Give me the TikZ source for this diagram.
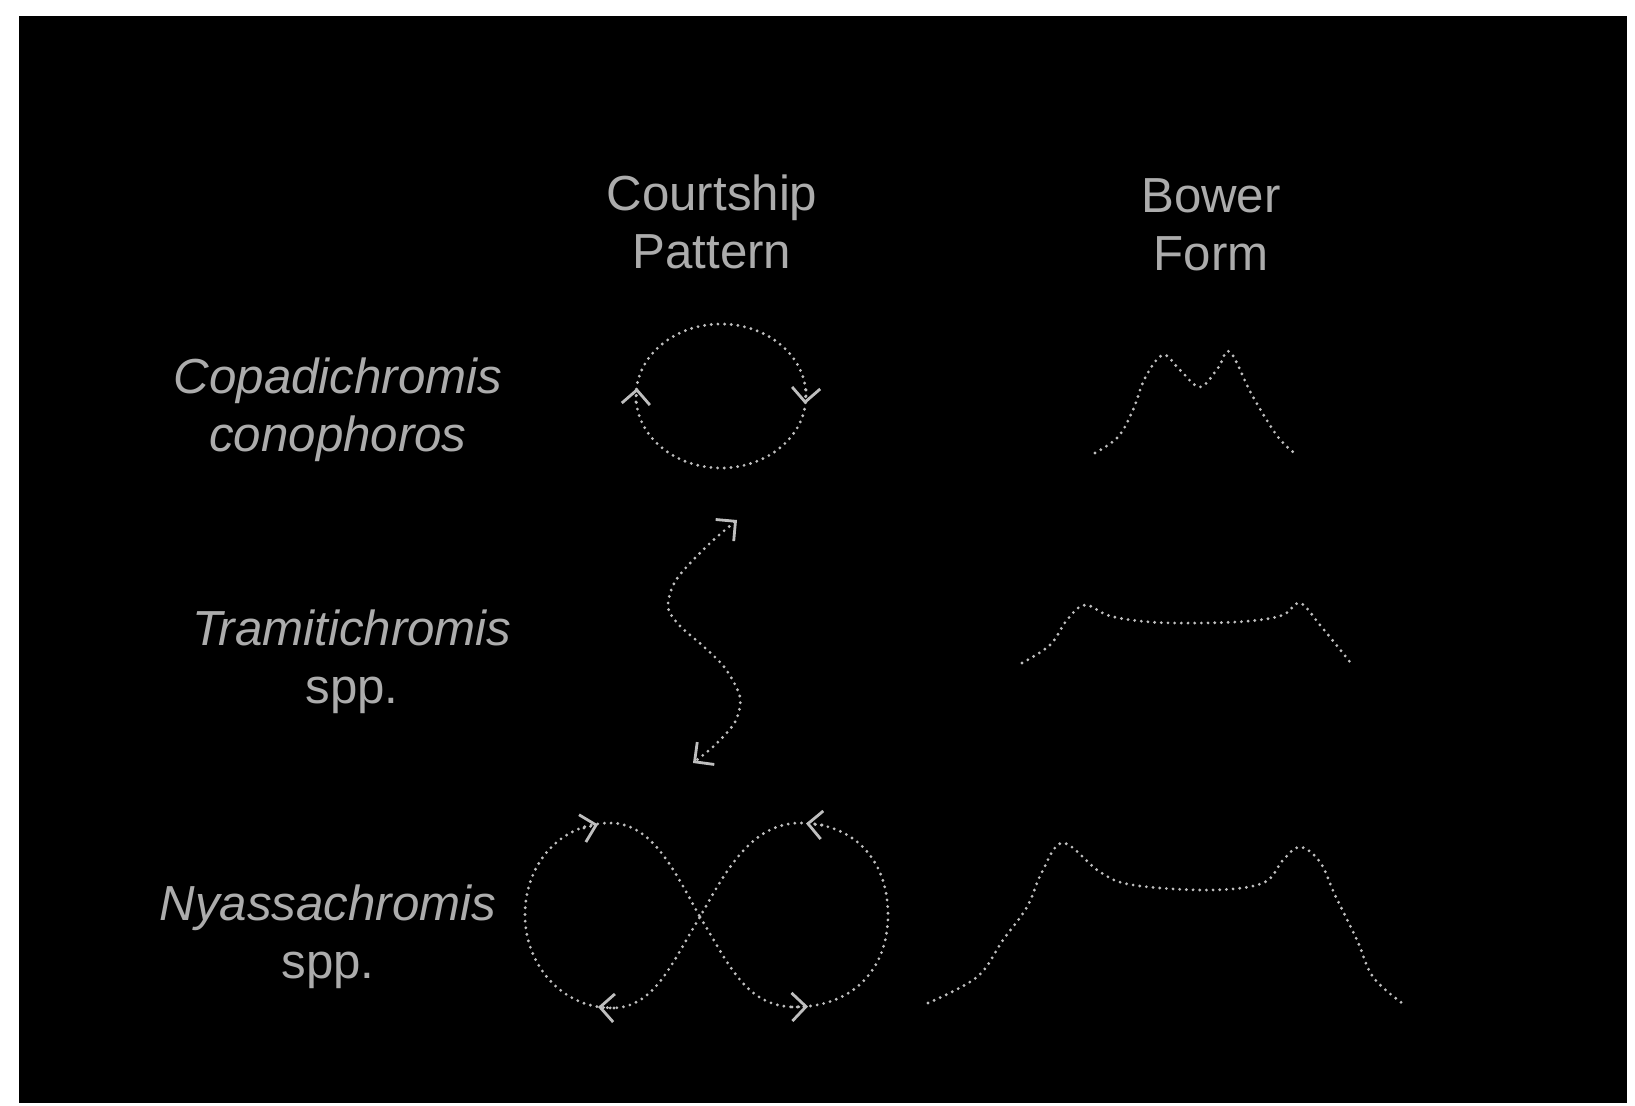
\documentclass[tikz,border=0pt]{standalone}
\usepackage{fontspec}
\setmainfont{Liberation Sans}
\usetikzlibrary{arrows.meta}
\definecolor{ink}{RGB}{190,190,190}
\definecolor{textink}{RGB}{172,172,172}
\begin{document}
\begin{tikzpicture}[x=0.01cm,y=-0.01cm,
  lbl/.style={text=textink, font=\fontsize{14pt}{16.5pt}\selectfont, align=center, inner sep=0pt},
  trail/.style={draw=ink, line width=0.9pt, line cap=round, dash pattern=on 0pt off 1.9pt},
  barb/.tip={Straight Barb[length=4pt,width=8pt,line width=0.8pt]},
  headtip/.style={trail, -{barb[ink]}},
]
% canvas
\fill[white] (0,0) rectangle (1635,1106);
\fill[black] (19,16) rectangle (1627,1103);

% headers
\node[lbl] (hcourt) at (712,222) {Courtship\\Pattern};
\node[lbl] (hbower) at (1211,225) {Bower\\Form};

% species
\node[lbl] (s1) at (338,410) {\textit{Copadichromis}\\\textit{conophoros}};
\node[lbl] (s2) at (352,662) {\textit{Tramitichromis}\\spp.};
\node[lbl] (s3) at (328,937) {\textit{Nyassachromis}\\spp.};

% courtship 1: circle (clockwise)
\draw[trail] (721,396) ellipse [x radius=85, y radius=72];
\coordinate (c1a) at (806,390);
\coordinate (c1b) at (805,404);
\coordinate (c1c) at (636,402);
\coordinate (c1d) at (637,388);
\draw[headtip] (c1a) -- (c1b);
\draw[headtip] (c1c) -- (c1d);

% courtship 2: back-and-forth line
\draw[trail, {barb[ink]}-{barb[ink]}]
  plot[smooth] coordinates {(737,520) (705,548) (676,580) (668,607) (680,626)
    (703,646) (725,668) (740,697) (735,722) (715,745) (693,763)};

% courtship 3: figure eight
\draw[trail]
  (700,917) .. controls (728,962) and (745,1007) .. (795,1007)
  .. controls (852,1007) and (888,970) .. (888,915)
  .. controls (888,858) and (852,823) .. (800,823)
  .. controls (752,823) and (726,870) .. (700,917)
  .. controls (672,962) and (655,1008) .. (612,1008)
  .. controls (562,1008) and (525,965) .. (525,915)
  .. controls (525,862) and (562,823) .. (610,823)
  .. controls (652,823) and (674,870) .. (700,917);
\coordinate (e1a) at (792,1007);
\coordinate (e1b) at (808,1006.5);
\coordinate (e2a) at (822,825);
\coordinate (e2b) at (806,823.5);
\coordinate (e3a) at (614,1008);
\coordinate (e3b) at (598,1007);
\coordinate (e4a) at (584,828);
\coordinate (e4b) at (598,824.5);
\draw[headtip] (e1a) -- (e1b);
\draw[headtip] (e2a) -- (e2b);
\draw[headtip] (e3a) -- (e3b);
\draw[headtip] (e4a) -- (e4b);

% bower 1: twin-peaked mound
\draw[trail] plot[smooth, tension=0.6] coordinates {(1095,453) (1118,437) (1133,410)
  (1145,378) (1163,355) (1180,370) (1200,387) (1218,368) (1230,352) (1252,395)
  (1278,437) (1297,455)};

% bower 2: low platform
\draw[trail] plot[smooth, tension=0.6] coordinates {(1022,663) (1050,645) (1067,620)
  (1085,605) (1110,616) (1150,622) (1200,623) (1250,621) (1283,615) (1300,603)
  (1320,625) (1350,662)};

% bower 3: large castle
\draw[trail] plot[smooth, tension=0.6] coordinates {(928,1003) (977,977) (1003,940)
  (1027,907) (1042,872) (1063,843) (1100,872) (1133,885) (1210,890) (1263,883)
  (1283,860) (1300,847) (1320,862) (1335,895) (1357,940) (1373,977) (1402,1003)};
\end{tikzpicture}
\end{document}
